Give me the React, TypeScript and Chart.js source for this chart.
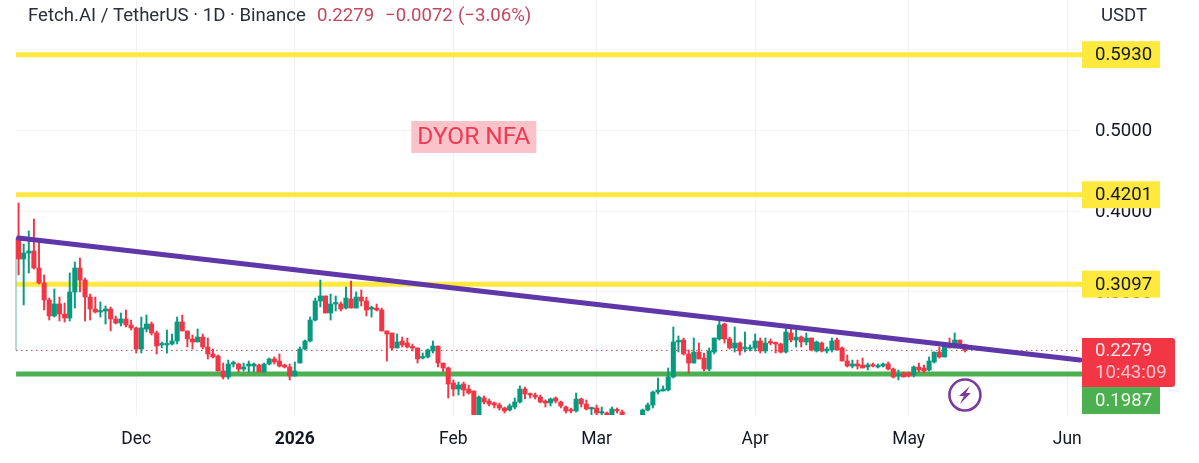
import React, { useEffect, useRef } from "react";
import { Chart, registerables } from "chart.js";

Chart.register(...registerables);

const opens = [
  .3667,.3407,.3481,.3506,.3296,.3111,.2901,.2704,.2852,.2728,
  .2679,.3000,.3296,.3148,.2938,.2790,.2753,.2765,.2790,.2667,
  .2617,.2667,.2593,.2556,.2296,.2543,.2605,.2494,.2346,.2346,
  .2358,.2395,.2630,.2519,.2420,.2383,.2444,.2321,.2235,.2210,
  .2025,.1951,.2111,.2111,.2049,.2086,.2086,.2099,.2012,.2111,
  .2173,.2148,.2099,.2074,.1963,.2123,.2296,.2395,.2654,.2889,
  .2951,.2741,.2852,.2852,.2802,.2914,.2802,.2938,.2889,.2790,
  .2802,.2778,.2519,.2494,.2309,.2395,.2370,.2321,.2309,.2185,
  .2198,.2272,.2333,.2123,.2062,.1877,.1802,.1864,.1802,.1778,
  .1420,.1691,.1654,.1630,.1605,.1568,.1543,.1580,.1642,.1802,
  .1741,.1728,.1704,.1654,.1630,.1691,.1642,.1580,.1543,.1531,
  .1679,.1617,.1556,.1568,.1506,.1506,.1481,.1543,.1519,.1457,
  .1432,.1395,.1469,.1543,.1605,.1765,.1778,.1790,.1951,.2383,
  .2407,.2235,.2123,.2259,.2185,.2049,.2259,.2420,.2605,.2420,
  .2309,.2370,.2296,.2296,.2309,.2395,.2272,.2383,.2370,.2358,
  .2259,.2494,.2407,.2444,.2383,.2432,.2272,.2370,.2272,.2284,
  .2407,.2309,.2148,.2086,.2111,.2099,.2074,.2099,.2074,.2086,
  .2111,.2049,.1963,.2000,.2000,.1975,.2074,.2062,.2037,.2136,
  .2259,.2198,.2358,.2309,.2407,.2351,
];
const highs = [
  .4099,.3593,.3753,.3901,.3605,.3210,.2926,.3037,.2938,.2864,
  .3235,.3370,.3420,.3173,.2975,.2938,.2877,.2827,.2815,.2704,
  .2741,.2778,.2654,.2568,.2691,.2716,.2630,.2519,.2383,.2531,
  .2481,.2691,.2716,.2519,.2469,.2543,.2481,.2432,.2296,.2222,
  .2123,.2160,.2148,.2123,.2123,.2148,.2123,.2111,.2123,.2185,
  .2198,.2235,.2111,.2111,.2136,.2321,.2407,.2691,.2926,.3148,
  .2951,.2975,.2951,.2877,.3062,.3136,.3000,.3025,.2938,.2827,
  .2852,.2802,.2519,.2494,.2481,.2444,.2432,.2358,.2309,.2247,
  .2296,.2395,.2333,.2123,.2074,.1914,.1889,.1889,.1852,.1778,
  .1716,.1716,.1679,.1642,.1630,.1580,.1617,.1691,.1840,.1827,
  .1753,.1753,.1728,.1667,.1691,.1704,.1654,.1593,.1568,.1753,
  .1691,.1667,.1580,.1605,.1580,.1519,.1580,.1568,.1543,.1469,
  .1444,.1469,.1556,.1630,.1778,.1938,.1840,.2062,.2568,.2457,
  .2432,.2284,.2432,.2370,.2247,.2309,.2432,.2691,.2617,.2444,
  .2568,.2383,.2506,.2346,.2481,.2432,.2432,.2420,.2383,.2370,
  .2556,.2556,.2531,.2457,.2494,.2432,.2395,.2383,.2321,.2432,
  .2432,.2321,.2222,.2160,.2160,.2185,.2123,.2123,.2111,.2123,
  .2136,.2062,.2037,.2012,.2012,.2086,.2123,.2099,.2198,.2259,
  .2321,.2370,.2432,.2494,.2407,.2358,
];
const lows = [
  .3210,.2840,.3235,.3284,.3099,.2778,.2654,.2691,.2642,.2630,
  .2642,.2802,.3000,.2642,.2654,.2741,.2691,.2605,.2519,.2605,
  .2580,.2568,.2531,.2247,.2247,.2506,.2469,.2235,.2309,.2247,
  .2346,.2358,.2519,.2321,.2296,.2383,.2296,.2173,.2185,.2025,
  .1926,.1926,.2074,.2012,.2025,.2012,.2012,.2012,.2012,.2099,
  .2111,.2074,.2062,.1914,.1963,.2123,.2284,.2383,.2642,.2815,
  .2741,.2654,.2765,.2765,.2790,.2802,.2802,.2827,.2704,.2691,
  .2765,.2519,.2148,.2284,.2309,.2321,.2309,.2272,.2123,.2173,
  .2185,.2247,.2074,.2012,.1691,.1716,.1728,.1716,.1741,.1358,
  .1358,.1617,.1593,.1568,.1543,.1506,.1531,.1556,.1630,.1679,
  .1691,.1679,.1630,.1580,.1593,.1630,.1568,.1506,.1506,.1519,
  .1580,.1543,.1481,.1481,.1481,.1481,.1469,.1506,.1469,.1395,
  .1383,.1383,.1457,.1531,.1568,.1741,.1778,.1778,.1938,.2259,
  .2222,.2000,.2123,.2173,.2025,.2025,.2235,.2407,.2370,.2296,
  .2259,.2222,.2259,.2272,.2272,.2247,.2247,.2346,.2247,.2247,
  .2247,.2383,.2321,.2321,.2346,.2272,.2259,.2259,.2247,.2259,
  .2284,.2148,.2074,.2062,.2049,.2062,.2037,.2074,.2062,.2074,
  .2037,.1938,.1914,.1951,.1951,.1951,.2012,.2000,.2025,.2123,
  .2185,.2198,.2309,.2309,.2309,.2259,
];
const closes = [
  .3407,.3481,.3506,.3296,.3111,.2901,.2704,.2852,.2728,.2679,
  .3000,.3296,.3148,.2938,.2790,.2753,.2765,.2790,.2667,.2617,
  .2667,.2593,.2556,.2296,.2556,.2605,.2494,.2333,.2358,.2358,
  .2395,.2630,.2519,.2420,.2383,.2444,.2321,.2235,.2198,.2025,
  .1951,.2111,.2123,.2049,.2074,.2111,.2111,.2012,.2111,.2173,
  .2136,.2086,.2074,.1963,.2025,.2296,.2395,.2654,.2889,.2951,
  .2741,.2852,.2864,.2790,.2926,.2802,.2938,.2889,.2778,.2802,
  .2778,.2519,.2481,.2309,.2383,.2346,.2321,.2309,.2173,.2198,
  .2284,.2333,.2123,.2062,.1864,.1802,.1852,.1790,.1753,.1420,
  .1704,.1642,.1617,.1605,.1568,.1531,.1593,.1642,.1802,.1741,
  .1728,.1704,.1642,.1630,.1679,.1654,.1593,.1531,.1531,.1679,
  .1617,.1556,.1568,.1506,.1519,.1481,.1556,.1531,.1469,.1432,
  .1395,.1457,.1543,.1605,.1765,.1790,.1802,.1951,.2383,.2395,
  .2235,.2123,.2259,.2173,.2049,.2272,.2432,.2593,.2420,.2309,
  .2370,.2272,.2321,.2309,.2395,.2272,.2370,.2370,.2358,.2259,
  .2506,.2407,.2444,.2383,.2432,.2284,.2383,.2272,.2296,.2395,
  .2284,.2148,.2086,.2111,.2086,.2062,.2099,.2086,.2086,.2111,
  .2049,.1951,.1975,.1951,.1963,.2074,.2037,.2025,.2148,.2259,
  .2198,.2333,.2309,.2407,.2309,.2279,
];

const FIRST_DAY = Date.UTC(2025, 10, 8);
const DAY_MS = 86400000;
const TOTAL_DAYS = 208;
const categories = Array.from({ length: TOTAL_DAYS }, (_, i) =>
  new Date(FIRST_DAY + i * DAY_MS).toISOString().slice(0, 10)
);

const monthIndexes = [23, 54, 85, 113, 144, 174, 205];
const monthLabels = ["Dec", "2026", "Feb", "Mar", "Apr", "May", "Jun"];
const yTicks = [0.2, 0.3, 0.4, 0.5, 0.6];
const hiddenYLabel = 0.6;

const yellowLevels = [0.593, 0.4201, 0.3097];
const supportLevel = 0.1987;
const lastPrice = 0.2279;
const trendStart = 0.3667;
const trendEnd = 0.2161;
const edgeCandleTop = 0.3667;
const edgeCandleBottom = 0.2284;

const UP = "#089981";
const DOWN = "#f23645";
const YELLOW = "#ffe93f";
const GREEN = "#4caf50";
const PURPLE = "#5f37a8";
const FONT = "Roboto, sans-serif";

const isDown = (i: number) => closes[i] < opens[i];
const candleColors = opens.map((_, i) => (isDown(i) ? DOWN : UP));

const overlay = {
  id: "overlay",
  beforeDraw(chart: any) {
    // the reference's axis text sits a touch lower than Chart.js centres it
    chart.scales.y.getLabelItems().forEach((item: any) => {
      item.options.translation[1] += 1.5;
    });
    chart.scales.x.getLabelItems().forEach((item: any) => {
      item.options.translation[1] += 1;
    });
  },
  afterDraw(chart: any) {
    const { ctx, scales } = chart;
    const y = scales.y;
    const x = scales.x;
    const lx = scales.lineX;
    ctx.save();

    // heading
    ctx.textBaseline = "middle";
    ctx.textAlign = "left";
    ctx.font = `400 18.6px ${FONT}`;
    ctx.fillStyle = "#2a2e39";
    ctx.fillText("Fetch.AI / TetherUS · 1D · Binance", 28, 16);
    ctx.fillStyle = "#c4475f";
    ctx.fillText("0.2279", 317, 16);
    ctx.fillText("−0.0072", 385, 16);
    ctx.fillText("(−3.06%)", 458, 16);
    ctx.fillStyle = "#2a2e39";
    ctx.fillText("USDT", 1101, 16);

    // note box
    const nx = lx.getPixelForValue(89);
    const ny = y.getPixelForValue(0.4914);
    ctx.fillStyle = "#fac3ca";
    ctx.fillRect(nx - 62.5, ny - 16, 125, 32);
    ctx.fillStyle = "#ee3a53";
    ctx.textAlign = "center";
    ctx.font = `400 24.5px ${FONT}`;
    ctx.fillText("DYOR NFA", nx, ny + 1);

    // lightning badge
    const bx = lx.getPixelForValue(185);
    const by = y.getPixelForValue(0.1728);
    ctx.strokeStyle = "#7c3a9e";
    ctx.lineWidth = 2.6;
    ctx.beginPath();
    ctx.arc(bx, by, 15.5, 0, Math.PI * 2);
    ctx.stroke();
    ctx.fillStyle = "#7c3a9e";
    ctx.beginPath();
    ctx.moveTo(bx + 5, by - 9);
    ctx.lineTo(bx - 6, by + 1);
    ctx.lineTo(bx - 1, by + 1);
    ctx.lineTo(bx - 5, by + 9);
    ctx.lineTo(bx + 6, by - 2);
    ctx.lineTo(bx + 1, by - 2);
    ctx.closePath();
    ctx.fill();

    // price tags
    const left = x.right + 2;
    const tags = [
      { v: yellowLevels[0], t: "0.5930", bg: YELLOW, fg: "#131722", shift: 0 },
      { v: yellowLevels[1], t: "0.4201", bg: YELLOW, fg: "#131722", shift: 0 },
      { v: yellowLevels[2], t: "0.3097", bg: YELLOW, fg: "#131722", shift: 0 },
      { v: supportLevel, t: "0.1987", bg: GREEN, fg: "#f2f7f2", shift: 26.5 },
    ];
    ctx.textAlign = "left";
    ctx.font = `400 18.6px ${FONT}`;
    for (const tag of tags) {
      const cy = y.getPixelForValue(tag.v) + tag.shift;
      ctx.fillStyle = tag.bg;
      ctx.fillRect(left, cy - 13.5, 78, 27);
      ctx.fillStyle = tag.fg;
      ctx.fillText(tag.t, left + 13, cy + 1);
    }
    const py = y.getPixelForValue(lastPrice);
    ctx.fillStyle = "#f23645";
    ctx.beginPath();
    ctx.roundRect(left, py - 12.5, 93, 49, [0, 3, 3, 0]);
    ctx.fill();
    ctx.fillStyle = "#ffe9ea";
    ctx.fillText("0.2279", left + 13, py + 1);
    ctx.fillStyle = "#ffc4ca";
    ctx.fillText("10:43:09", left + 13, py + 23);

    ctx.restore();
  },
};

const levelDataset = (value: number, color: string) => ({
  type: "line",
  xAxisID: "lineX",
  yAxisID: "y",
  data: [
    { x: 0, y: value },
    { x: TOTAL_DAYS - 0.5, y: value },
  ],
  borderColor: color,
  borderWidth: 5,
  borderCapStyle: "square",
  pointRadius: 0,
  clip: false,
  order: 6,
});

export default function App() {
  const ref = useRef<HTMLCanvasElement>(null);
  useEffect(() => {
    const chart = new Chart(ref.current as HTMLCanvasElement, {
      type: "bar",
      data: {
        labels: categories,
        datasets: [
          {
            type: "line",
            xAxisID: "lineX",
            yAxisID: "y",
            data: [
              { x: -0.5, y: lastPrice },
              { x: TOTAL_DAYS - 0.5, y: lastPrice },
            ],
            borderColor: "#b5485a",
            borderWidth: 1,
            borderDash: [1.5, 3.5],
            pointRadius: 0,
            order: 7,
          },
          ...yellowLevels.map((v) => levelDataset(v, YELLOW)),
          levelDataset(supportLevel, GREEN),
          {
            type: "line",
            xAxisID: "lineX",
            yAxisID: "y",
            data: [
              { x: -0.5, y: edgeCandleTop },
              { x: -0.5, y: edgeCandleBottom },
            ],
            borderColor: "#7fc4b8",
            borderWidth: 1.2,
            pointRadius: 0,
            clip: false,
            order: 5,
          },
          {
            type: "bar",
            xAxisID: "x",
            yAxisID: "y",
            data: opens.map((_, i) => [lows[i], highs[i]]),
            backgroundColor: candleColors,
            barThickness: 1.3,
            grouped: false,
            order: 4,
          },
          {
            type: "bar",
            xAxisID: "x",
            yAxisID: "y",
            data: opens.map((_, i) => [opens[i], closes[i]]),
            backgroundColor: candleColors,
            barThickness: 4.4,
            grouped: false,
            minBarLength: 1.5,
            order: 3,
          },
          {
            type: "line",
            xAxisID: "lineX",
            yAxisID: "y",
            data: [
              { x: 0, y: trendStart },
              { x: TOTAL_DAYS - 0.5, y: trendEnd },
            ],
            borderColor: PURPLE,
            borderWidth: 5,
            borderCapStyle: "round",
            pointRadius: 0,
            clip: false,
            order: 1,
          },
        ] as any,
      },
      options: {
        responsive: false,
        animation: false,
        devicePixelRatio: 1,
        events: [],
        layout: { autoPadding: false, padding: { left: 16, right: 0, top: 0, bottom: 0 } },
        plugins: { legend: { display: false }, tooltip: { enabled: false }, title: { display: false } },
        scales: {
          x: {
            type: "category",
            position: "bottom",
            offset: true,
            border: { display: false },
            grid: { offset: false, drawTicks: false, color: "#f1f2f5", lineWidth: 1 },
            afterBuildTicks(scale: any) {
              scale.ticks = monthIndexes.map((value) => ({ value }));
            },
            afterFit(scale: any) {
              scale.height = 48;
              scale.paddingLeft = 0;
              scale.paddingRight = 0;
            },
            ticks: {
              autoSkip: false,
              maxRotation: 0,
              padding: 13,
              color: "#131722",
              font: (ctx: any) => ({
                family: FONT,
                size: 17.5,
                weight: ctx.tick && ctx.tick.value === 54 ? "bold" : "normal",
              }),
              callback: (value: any) => monthLabels[monthIndexes.indexOf(Number(value))] ?? "",
            },
          },
          lineX: {
            type: "linear",
            display: false,
            position: "bottom",
            offset: false,
            min: -0.5,
            max: TOTAL_DAYS - 0.5,
          },
          y: {
            type: "linear",
            position: "right",
            min: 0.148148,
            max: 0.660494,
            border: { display: false },
            grid: { drawTicks: false, color: "#f3f4f6", lineWidth: 1 },
            afterBuildTicks(scale: any) {
              scale.ticks = yTicks.map((value) => ({ value }));
            },
            afterFit(scale: any) {
              scale.width = 119;
              scale.paddingTop = 0;
              scale.paddingBottom = 0;
            },
            ticks: {
              padding: 15,
              color: "#131722",
              font: { family: FONT, size: 18.6 },
              callback: (value: any) => (Number(value) === hiddenYLabel ? "" : Number(value).toFixed(4)),
            },
          },
        },
      } as any,
      plugins: [overlay],
    });
    return () => chart.destroy();
  }, []);

  return (
    <div style={{ position: "absolute", left: 0, top: 0, width: 1199, height: 463, overflow: "hidden", background: "#fff" }}>
      <canvas ref={ref} width={1199} height={463} style={{ display: "block" }} />
    </div>
  );
}
